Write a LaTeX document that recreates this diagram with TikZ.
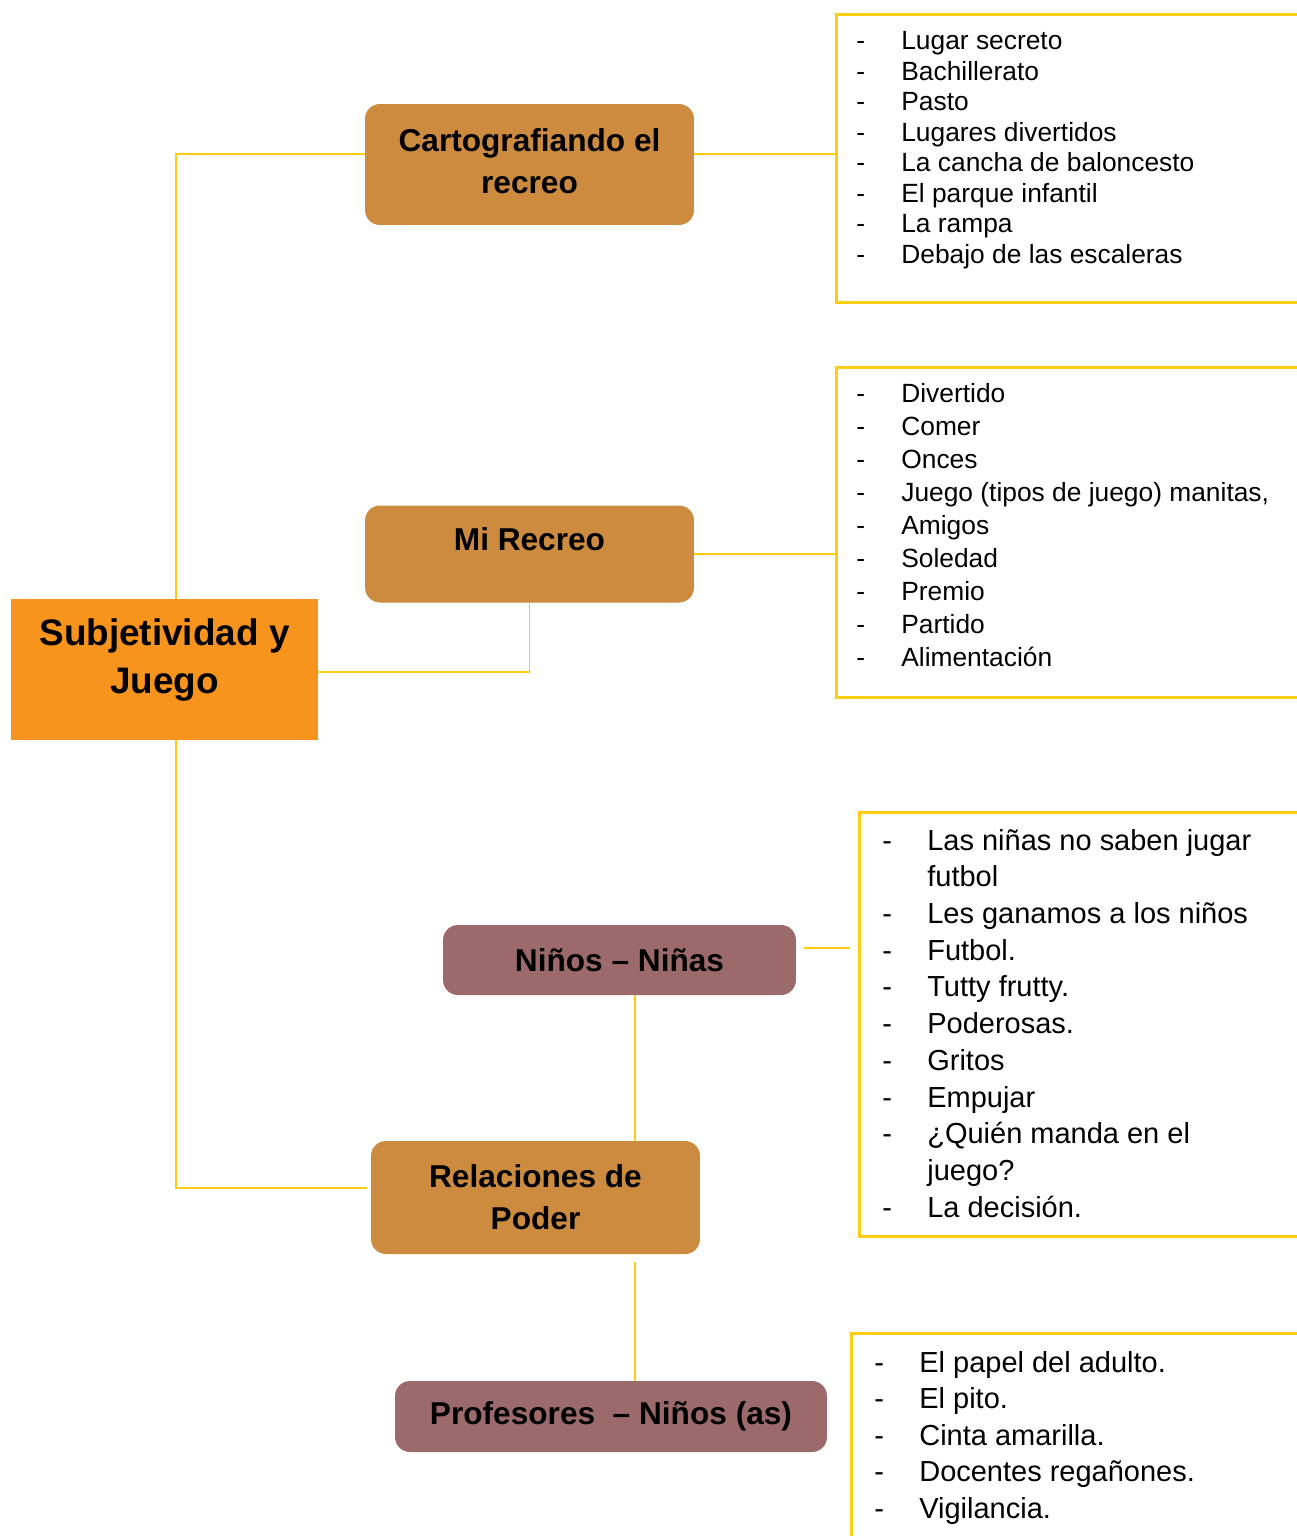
\documentclass[tikz,border=0pt]{standalone}
\usepackage{fontspec}
\setmainfont{Liberation Sans}
\usetikzlibrary{backgrounds}

\definecolor{naranja}{HTML}{F7941E}
\definecolor{cafe}{HTML}{CD8B3F}
\definecolor{malva}{HTML}{9C6A6A}
\definecolor{amarillo}{HTML}{FFCC0F}

\newcommand{\guion}{\makebox[0.9cm][l]{-}}

\begin{document}
\begin{tikzpicture}[x=0.02cm,y=-0.02cm]
\tikzstyle{every node}=[inner sep=0pt]
\tikzstyle{tema}=[fill=naranja, minimum width=6.14cm, minimum height=2.82cm, align=center, font=\fontsize{21}{27.2}\selectfont\bfseries]
\tikzstyle{subtema}=[fill=cafe, rounded corners=8.5pt, align=center, font=\fontsize{18}{23.8}\selectfont\bfseries]
\tikzstyle{relacion}=[subtema, fill=malva]
\tikzstyle{lista}=[draw=amarillo, line width=1.7pt, anchor=north west, minimum width=10.4cm]
\tikzstyle{items}=[anchor=base west, font=\fontsize{15}{17.4}\selectfont]
\tikzstyle{enlace}=[draw=amarillo, line width=1.1pt]

\useasboundingbox (0,0) rectangle (1297,1536);
\clip (0,0) rectangle (1297,1536);

% nodos principales
\node[tema, text depth=15.6pt] (subjetividad) at (164.5,669.5) {Subjetividad y\\Juego};
\node[subtema, minimum width=6.58cm, minimum height=2.42cm, text depth=4pt] (carto) at (529.5,164.5) {Cartografiando el\\recreo};
\node[subtema, minimum width=6.58cm, minimum height=1.94cm, text depth=17pt] (recreo) at (529.5,554) {Mi Recreo};
\node[relacion, minimum width=7.06cm, minimum height=1.40cm] (ninos) at (619.5,960) {Niños – Niñas};
\node[subtema, minimum width=6.58cm, minimum height=2.26cm] (poder) at (535.5,1197.5) {Relaciones de\\Poder};
\node[relacion, minimum width=8.64cm, minimum height=1.42cm] (profes) at (611,1416.5) {Profesores~ – Niños (as)};

% listas
\node[lista, minimum height=5.76cm] (lst1) at (835,13) {};
\node[items] (txt1) at (856,49.5) {\begin{tabular}[t]{@{}l@{}}
\guion Lugar secreto\\
\guion Bachillerato\\
\guion Pasto\\
\guion Lugares divertidos\\
\guion La cancha de baloncesto\\
\guion El parque infantil\\
\guion La rampa\\
\guion Debajo de las escaleras
\end{tabular}};

\node[lista, minimum height=6.6cm] (lst2) at (835,366) {};
\node[items, font=\fontsize{15}{18.8}\selectfont] (txt2) at (856,402) {\begin{tabular}[t]{@{}l@{}}
\guion Divertido\\
\guion Comer\\
\guion Onces\\
\guion Juego (tipos de juego) manitas,\\
\guion Amigos\\
\guion Soledad\\
\guion Premio\\
\guion Partido\\
\guion Alimentación
\end{tabular}};

\node[lista, minimum height=8.48cm] (lst3) at (858,811) {};
\node[items, font=\fontsize{16.5}{20.9}\selectfont] (txt3) at (882,850) {\begin{tabular}[t]{@{}l@{}}
\guion Las niñas no saben jugar\\
\hspace*{0.9cm}futbol\\
\guion Les ganamos a los niños\\
\guion Futbol.\\
\guion Tutty frutty.\\
\guion Poderosas.\\
\guion Gritos\\
\guion Empujar\\
\guion ¿Quién manda en el\\
\hspace*{0.9cm}juego?\\
\guion La decisión.
\end{tabular}};

\node[lista, minimum height=5cm] (lst4) at (850,1332) {};
\node[items, font=\fontsize{16.5}{20.8}\selectfont] (txt4) at (874,1372) {\begin{tabular}[t]{@{}l@{}}
\guion El papel del adulto.\\
\guion El pito.\\
\guion Cinta amarilla.\\
\guion Docentes regañones.\\
\guion Vigilancia.
\end{tabular}};

% enlaces
\coordinate (tronco) at (176,700);
\coordinate (eje) at (635,0);
\begin{scope}[on background layer]
\draw[enlace, shorten >=2pt] ([yshift=5.95pt]carto.west) -| (tronco) |- ([yshift=5.4pt]poder.west);
\draw[enlace] ([yshift=5.95pt]carto.east) -- ([yshift=5.95pt]carto.east -| lst1.west);
\draw[enlace] (recreo.east) -- (recreo.east -| lst2.west);
\draw[enlace] (recreo.south) |- ([yshift=-1.4pt]subjetividad.east);
\draw[enlace, shorten <=4.5pt, shorten >=4.5pt] ([yshift=6.8pt]ninos.east) -- ([yshift=6.8pt]ninos.east -| lst3.west);
\draw[enlace] (ninos.south -| eje) -- (poder.north -| eje);
\draw[enlace, shorten <=4.5pt] (poder.south -| eje) -- (profes.north -| eje);
\end{scope}
\end{tikzpicture}
\end{document}
